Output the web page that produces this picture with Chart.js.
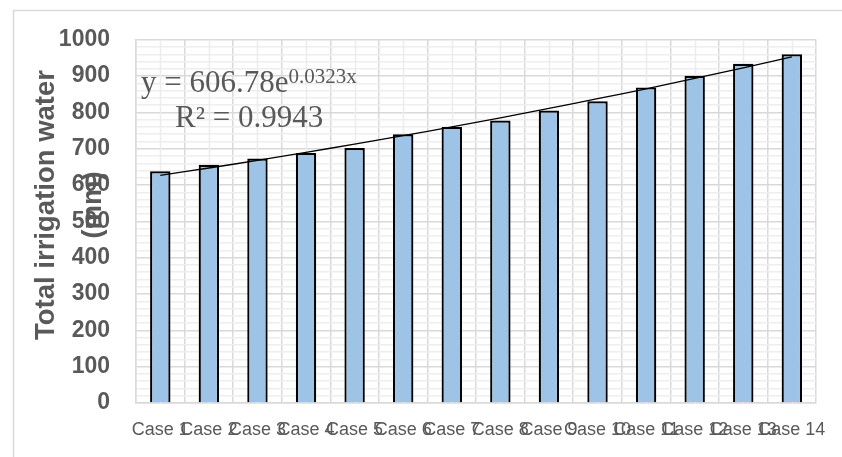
<!DOCTYPE html>
<html>
<head>
<meta charset="utf-8">
<script src="https://cdn.jsdelivr.net/npm/chart.js@4/dist/chart.umd.min.js"></script>
<style>
html,body{margin:0;padding:0;background:#fff;}
#wrap{width:842px;height:457px;position:relative;}
</style>
</head>
<body>
<div id="wrap"><canvas id="c" width="842" height="457"></canvas></div>
<script>
const categories = ["Case 1","Case 2","Case 3","Case 4","Case 5","Case 6","Case 7","Case 8","Case 9","Case 10","Case 11","Case 12","Case 13","Case 14"];
const irrigationValues = [638, 656, 673, 688, 702, 740, 760, 778, 805, 831, 869, 901, 934, 960];
const trendValues = [627, 647, 668, 690, 713, 736, 760, 785, 811, 838, 865, 894, 923, 953];
const yAxisTitleLines = ["Total irrigation water", "(mm)"];
const equationMain = "y = 606.78e";
const equationExp = "0.0323x";
const equationR2 = "R\u00B2 = 0.9943";

const textGrey = "#595959";

const decorPlugin = {
  id: "decor",
  beforeDraw(chart) {
    const ctx = chart.ctx;
    ctx.save();
    ctx.fillStyle = "#fff";
    ctx.fillRect(0, 0, chart.width, chart.height);
    ctx.strokeStyle = "#d9d9d9";
    ctx.lineWidth = 1.5;
    ctx.strokeRect(13.5, 10.5, 1000, 1000);
    ctx.restore();
  },
  beforeDatasetsDraw(chart) {
    const ctx = chart.ctx;
    const xs = chart.scales.x, area = chart.chartArea;
    ctx.save();
    ctx.strokeStyle = "#ececec";
    ctx.lineWidth = 1.5;
    for (let i = 0; i < categories.length; i++) {
      const px = Math.round(xs.getPixelForValue(i)) + 0.5;
      ctx.beginPath();
      ctx.moveTo(px, area.top);
      ctx.lineTo(px, area.bottom);
      ctx.stroke();
    }
    ctx.restore();
  },
  afterDraw(chart) {
    const ctx = chart.ctx;
    ctx.save();
    ctx.fillStyle = textGrey;
    ctx.font = "bold 27.5px 'Liberation Sans', Arial, sans-serif";
    ctx.textAlign = "center";
    ctx.textBaseline = "middle";
    ctx.translate(46, 205);
    ctx.rotate(-Math.PI / 2);
    ctx.fillText(yAxisTitleLines[0], 0, 0);
    ctx.fillText(yAxisTitleLines[1], 0, 47);
    ctx.restore();

    ctx.save();
    ctx.fillStyle = textGrey;
    ctx.textAlign = "left";
    ctx.textBaseline = "alphabetic";
    ctx.font = "31px 'Liberation Serif', 'Times New Roman', serif";
    ctx.fillText(equationMain, 141, 92);
    const w = ctx.measureText(equationMain).width;
    ctx.font = "21px 'Liberation Serif', 'Times New Roman', serif";
    ctx.fillText(equationExp, 141 + w, 83);
    ctx.font = "31px 'Liberation Serif', 'Times New Roman', serif";
    ctx.fillText(equationR2, 175, 127);
    ctx.restore();
  }
};

new Chart(document.getElementById("c"), {
  data: {
    labels: categories,
    datasets: [
      {
        type: "line",
        data: trendValues,
        borderColor: "#000",
        borderWidth: 1.3,
        pointRadius: 0,
        tension: 0.3,
        fill: false,
        order: 0
      },
      {
        type: "bar",
        data: irrigationValues,
        backgroundColor: "#9dc3e6",
        borderColor: "#000",
        borderWidth: 2.2,
        categoryPercentage: 1,
        barPercentage: 0.42,
        order: 1
      }
    ]
  },
  options: {
    responsive: false,
    animation: false,
    layout: { padding: { top: 37, right: 18, left: 0, bottom: 0 } },
    plugins: { legend: { display: false }, tooltip: { enabled: false }, title: { display: false } },
    scales: {
      x: {
        offset: true,
        grid: { offset: true, color: "#d9d9d9", lineWidth: 1.5, drawTicks: false },
        border: { display: true, color: "#d9d9d9", width: 1.5 },
        ticks: {
          autoSkip: false, maxRotation: 0, minRotation: 0, padding: 16,
          color: textGrey,
          font: { family: "'Liberation Sans', Arial, sans-serif", size: 18 }
        },
        afterFit(scale) { scale.height = 54; }
      },
      y: {
        min: 0, max: 1000,
        grid: {
          drawTicks: false,
          color: (c) => (c.tick && c.tick.value % 100 === 0) ? "#d9d9d9" : "#eeeeee",
          lineWidth: 1.5
        },
        border: { display: true, color: "#d9d9d9", width: 1.5 },
        ticks: {
          stepSize: 20, autoSkip: false, padding: 26,
          color: textGrey,
          font: { family: "'Liberation Sans', Arial, sans-serif", size: 23, weight: "bold" },
          callback: (v) => (v % 100 === 0 ? String(v) : "")
        },
        afterFit(scale) { scale.width = 136; }
      }
    }
  },
  plugins: [decorPlugin]
});
</script>
</body>
</html>
